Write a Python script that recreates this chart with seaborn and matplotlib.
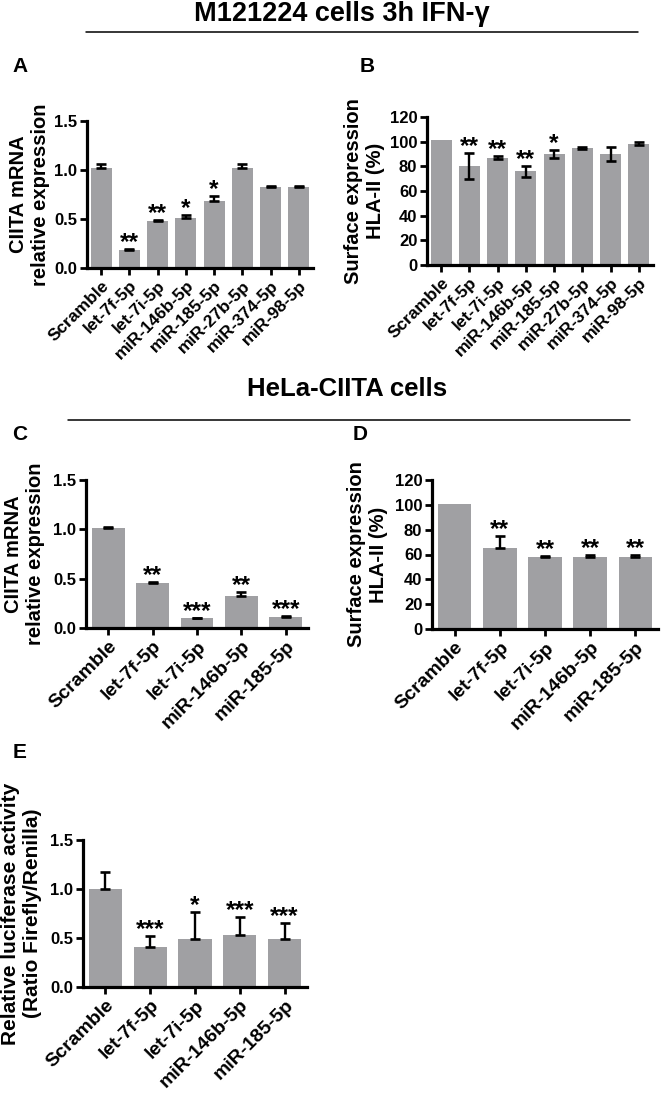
import numpy as np
import pandas as pd
import matplotlib
matplotlib.use("Agg")
import matplotlib.pyplot as plt
import seaborn as sns
from matplotlib.lines import Line2D

sns.set_theme(style="ticks")
plt.rcParams["font.family"] = ["Liberation Sans", "DejaVu Sans"]
plt.rcParams["font.weight"] = "bold"
for k in ["text.color", "axes.labelcolor", "xtick.color", "ytick.color", "axes.edgecolor"]:
    plt.rcParams[k] = "black"

# ---------------- data ----------------
cats_ab = ["Scramble", "let-7f-5p", "let-7i-5p", "miR-146b-5p", "miR-185-5p",
           "miR-27b-5p", "miR-374-5p", "miR-98-5p"]
a_vals = [1.02, 0.185, 0.475, 0.51, 0.68, 1.02, 0.83, 0.83]
a_err = [0.04, 0.004, 0.015, 0.03, 0.055, 0.045, 0.008, 0.008]
a_sig = ["", "**", "**", "*", "*", "", "", ""]

b_vals = [101, 80, 87, 76, 90, 95, 90, 98.5]
b_err = [0, 10.5, 1.0, 4.5, 3.0, 1.0, 6.0, 1.2]
b_sig = ["", "**", "**", "**", "*", "", "", ""]

cats_cde = ["Scramble", "let-7f-5p", "let-7i-5p", "miR-146b-5p", "miR-185-5p"]
c_vals = [1.013, 0.455, 0.10, 0.328, 0.115]
c_err = [0.008, 0.008, 0.006, 0.032, 0.006]
c_sig = ["", "**", "***", "**", "***"]

d_vals = [100.8, 65.6, 58.1, 57.9, 57.6]
d_err = [0, 9.0, 0.5, 2.0, 1.6]
d_sig = ["", "**", "**", "**", "**"]

e_vals = [1.0, 0.41, 0.493, 0.527, 0.487]
e_err = [0.175, 0.11, 0.27, 0.19, 0.167]
e_sig = ["", "***", "*", "***", "***"]

BAR = "#a0a0a3"
W, H = 661, 1099

fig = plt.figure(figsize=(W / 100, H / 100), dpi=100)


def ax_at(l, t, r, b):
    return fig.add_axes([l / W, 1 - b / H, (r - l) / W, (b - t) / H])


def panel(ax, cats, vals, errs, sigs, ylim, yticks, ylabels, ylabel, labx,
          both=False, xfs=13.5, yfs=14.5):
    df = pd.DataFrame({"cat": cats, "val": vals})
    sns.barplot(data=df, x="cat", y="val", color=BAR, saturation=1, width=0.74,
                linewidth=0, errorbar=None, ax=ax, zorder=2)
    x = np.arange(len(cats))
    v = np.array(vals, float)
    e = np.array(errs, float)
    m = e > 0
    lower = e if both else np.zeros_like(e)
    ax.errorbar(x[m], v[m], yerr=[lower[m], e[m]], fmt="none", ecolor="black",
                elinewidth=1.7, capsize=3.8, capthick=1.9, zorder=3)
    for xi, vi, ei, s in zip(x, v, e, sigs):
        if s:
            ax.text(xi, vi + ei, s, ha="center", va="baseline", fontsize=17.5,
                    fontweight="bold", zorder=4)
    ax.set_xlim(-0.5, len(cats) - 0.5)
    ax.set_ylim(*ylim)
    ax.set_yticks(yticks)
    ax.set_yticklabels(ylabels, fontsize=12, fontweight="bold")
    ax.set_xticks(x)
    ax.set_xticklabels(cats, rotation=45, ha="right", rotation_mode="anchor",
                       fontsize=xfs, fontweight="bold")
    ax.set_xlabel("")
    ax.set_ylabel(ylabel, fontsize=yfs, fontweight="bold")
    ax.yaxis.set_label_coords(labx, 0.5)
    sns.despine(ax=ax)
    for sp in ["left", "bottom"]:
        ax.spines[sp].set_linewidth(2.3)
    ax.tick_params(axis="both", width=2.0, length=5, direction="out", pad=2)
    ax.set_facecolor("white")


mrna_ticks = [0.0, 0.5, 1.0, 1.5]
mrna_lbls = ["0.0", "0.5", "1.0", "1.5"]
pct_ticks = [0, 20, 40, 60, 80, 100, 120]
pct_lbls = [str(t) for t in pct_ticks]

axA = ax_at(87, 121, 313, 268)
panel(axA, cats_ab, a_vals, a_err, a_sig, (0, 1.5), mrna_ticks, mrna_lbls,
      "CIITA mRNA\nrelative expression", -0.164, xfs=12.5)

axB = ax_at(427, 117, 653, 265)
panel(axB, cats_ab, b_vals, b_err, b_sig, (0, 120), pct_ticks, pct_lbls,
      "Surface expression\nHLA-II (%)", -0.186, both=True, xfs=12.5)

axC = ax_at(86, 480, 308, 628)
panel(axC, cats_cde, c_vals, c_err, c_sig, (0, 1.5), mrna_ticks, mrna_lbls,
      "CIITA mRNA\nrelative expression", -0.185, xfs=14)

axD = ax_at(432, 480, 658, 629)
panel(axD, cats_cde, d_vals, d_err, d_sig, (0, 120), pct_ticks, pct_lbls,
      "Surface expression\nHLA-II (%)", -0.195, xfs=14)

axE = ax_at(83, 840, 307, 987)
panel(axE, cats_cde, e_vals, e_err, e_sig, (0, 1.5), mrna_ticks, mrna_lbls,
      "Relative luciferase activity\n(Ratio Firefly/Renilla)", -0.183, xfs=14,
      yfs=15)

# titles and separator lines
fig.text(342 / W, 1 - 14 / H, "M121224 cells 3h IFN-γ", ha="center", va="center",
         fontsize=19.5, fontweight="bold")
fig.add_artist(Line2D([86 / W, 638 / W], [1 - 32 / H] * 2, color="black", lw=1.1))
fig.text(347 / W, 1 - 389 / H, "HeLa-CIITA cells", ha="center", va="center",
         fontsize=18.5, fontweight="bold")
fig.add_artist(Line2D([68 / W, 630 / W], [1 - 420 / H] * 2, color="black", lw=1.1))

# panel letters
for letter, px, py in [("A", 12, 67), ("B", 360, 66), ("C", 12, 435),
                       ("D", 353, 435), ("E", 13, 752)]:
    fig.text(px / W, 1 - py / H, letter, ha="left", va="center", fontsize=15,
             fontweight="bold")

fig.savefig("out.png", dpi=100, facecolor="white")
